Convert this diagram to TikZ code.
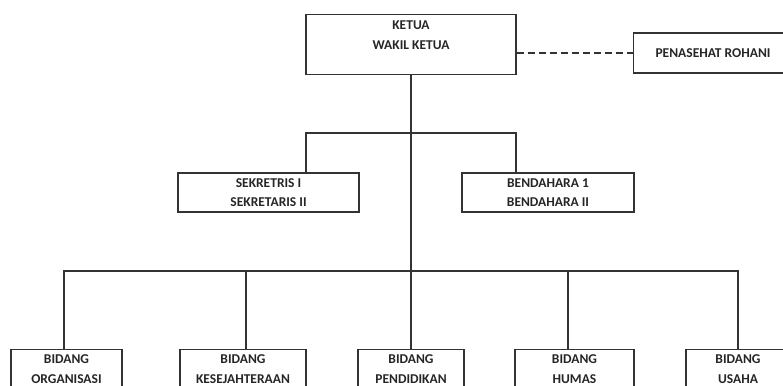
\documentclass[tikz,border=0pt]{standalone}
\usepackage{fontspec}
\setmainfont{Carlito}

\begin{document}
\begin{tikzpicture}[x=1pt, y=-1pt, line width=1.3pt, draw=black!80,
    every node/.style={rectangle, draw=black!80, line width=1.3pt, align=center, text=black!85,
        font=\fontsize{13.5}{19.5}\selectfont\bfseries},
    topbox/.style={anchor=north, inner ysep=6.5pt},
    bidang/.style={anchor=north, inner ysep=5pt, text depth=40pt}]
    \useasboundingbox (0,0) rectangle (783,385);

    \node[topbox, minimum width=210pt, text depth=18.5pt] (ketua) at (411,14) {KETUA\\WAKIL KETUA};
    \node[minimum width=159pt, minimum height=40pt] (rohani) at (713,53) {PENASEHAT ROHANI};
    \node[minimum width=181pt, minimum height=39pt] (sekretaris) at (268.5,192.5) {SEKRETRIS I\\SEKRETARIS II};
    \node[minimum width=172pt, minimum height=39pt] (bendahara) at (548,192.5) {BENDAHARA 1\\BENDAHARA II};

    \node[bidang, minimum width=111pt] (organisasi) at (66.5,349) {BIDANG\\ORGANISASI};
    \node[bidang, minimum width=126pt] (kesejahteraan) at (243,349) {BIDANG\\KESEJAHTERAAN};
    \node[bidang, minimum width=106pt] (pendidikan) at (411,349) {BIDANG\\PENDIDIKAN};
    \node[bidang, minimum width=119pt] (humas) at (574.5,349) {BIDANG\\HUMAS};
    \node[bidang, minimum width=104pt] (usaha) at (738,349) {BIDANG\\USAHA};

    \coordinate (atas) at (411,133);
    \coordinate (bawah) at (411,271);

    \draw[dashed, dash pattern=on 7pt off 4pt] (ketua.east |- rohani.west) -- (rohani.west);
    \draw (ketua.south) -- (bawah);
    \draw (sekretaris.north -| 306,0) |- (atas) -| (bendahara.north -| 516,0);
    \draw (organisasi.north -| 64,0) |- (bawah);
    \draw (kesejahteraan.north -| 246,0) -- (bawah -| 246,0);
    \draw (pendidikan.north) -- (bawah);
    \draw (humas.north -| 568,0) -- (bawah -| 568,0);
    \draw (usaha.north) |- (bawah);
\end{tikzpicture}
\end{document}
